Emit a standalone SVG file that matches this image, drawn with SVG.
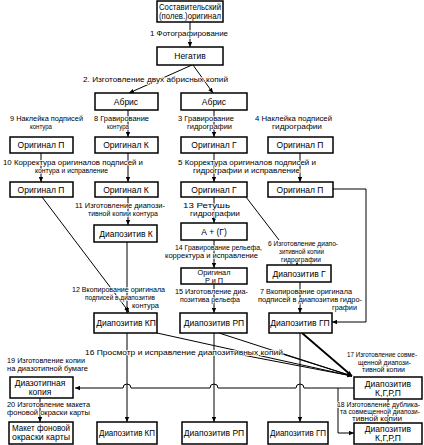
<svg xmlns="http://www.w3.org/2000/svg" width="424" height="445" viewBox="0 0 424 445">
<defs>
<marker id="a" viewBox="0 0 8 8" refX="8" refY="4" markerWidth="5" markerHeight="5" orient="auto-start-reverse" markerUnits="userSpaceOnUse"><path d="M0,0.5 L8,4 L0,7.5 Z" fill="#000"/></marker>
<style>
.b{fill:#fff;stroke:#000;stroke-width:1.5}
.t{font-family:"Liberation Sans",Arial,sans-serif;font-size:8.5px;fill:#000;text-anchor:middle}
.s{font-size:7.3px}
.l{font-family:"Liberation Sans",Arial,sans-serif;font-size:7px;fill:#000;stroke:#fff;stroke-width:1.5;paint-order:stroke;stroke-linejoin:round}
.c{stroke:#000;stroke-width:1;fill:none}
.k{stroke:#000;stroke-width:1.8;fill:none}
</style>
</defs>
<rect width="424" height="445" fill="#fff"/>
<g id="connectors">
<line class="c" x1="190" y1="22" x2="190" y2="47" marker-end="url(#a)"/>
<line class="c" x1="192" y1="65" x2="129" y2="93" marker-end="url(#a)"/>
<line class="c" x1="193" y1="65" x2="213" y2="93" marker-end="url(#a)"/>
<line class="c" x1="128" y1="110" x2="128" y2="137" marker-end="url(#a)"/>
<line class="c" x1="214" y1="110" x2="214" y2="137" marker-end="url(#a)"/>
<line class="c" x1="41" y1="153" x2="41" y2="182" marker-end="url(#a)"/>
<line class="c" x1="128" y1="153" x2="128" y2="182" marker-end="url(#a)"/>
<line class="c" x1="214" y1="153" x2="214" y2="182" marker-end="url(#a)"/>
<line class="c" x1="300" y1="153" x2="300" y2="182" marker-end="url(#a)"/>
<line class="c" x1="128" y1="197" x2="128" y2="225" marker-end="url(#a)"/>
<line class="c" x1="214" y1="197" x2="214" y2="223" marker-end="url(#a)"/>
<line class="c" x1="246" y1="197" x2="279" y2="240"/>
<line class="c" x1="297" y1="258" x2="297" y2="265" marker-end="url(#a)"/>
<line class="c" x1="214" y1="240" x2="214" y2="268" marker-end="url(#a)"/>
<line class="c" x1="127" y1="242" x2="127" y2="313" marker-end="url(#a)"/>
<line class="c" x1="42" y1="197" x2="129" y2="312" marker-end="url(#a)"/>
<line class="c" x1="214" y1="284" x2="214" y2="313" marker-end="url(#a)"/>
<line class="c" x1="300" y1="282" x2="300" y2="313" marker-end="url(#a)"/>
<polyline class="c" points="333,189 366,189 366,322 332,322" marker-end="url(#a)"/>
<line class="c" x1="127" y1="333" x2="127" y2="422" marker-end="url(#a)"/>
<line class="c" x1="214" y1="333" x2="214" y2="422" marker-end="url(#a)"/>
<line class="c" x1="300" y1="333" x2="300" y2="422" marker-end="url(#a)"/>
<line class="c" x1="157" y1="333" x2="352" y2="376" marker-end="url(#a)"/>
<line class="c" x1="219" y1="333" x2="352" y2="376" marker-end="url(#a)"/>
<line class="c" x1="232" y1="353" x2="352" y2="376" marker-end="url(#a)"/>
<line class="c" x1="276" y1="352" x2="352" y2="376" marker-end="url(#a)"/>
<line class="k" x1="302" y1="333" x2="352" y2="376" marker-end="url(#a)"/>
<path class="c" d="M354,388 H304 A4,4 0 0 0 296,388 H218 A4,4 0 0 0 210,388 H131 A4,4 0 0 0 123,388 H75" marker-end="url(#a)"/>
<polyline class="c" points="338,388 338,433 354,433" marker-end="url(#a)"/>
<line class="c" x1="40" y1="398" x2="40" y2="422" marker-end="url(#a)"/>
<line class="c" x1="388" y1="399" x2="388" y2="423" marker-end="url(#a)"/>
</g>
<g id="labels">
<text class="l" x="150" y="36" textLength="78" lengthAdjust="spacingAndGlyphs">1 Фотографирование</text>
<text class="l" x="83" y="82" textLength="145" lengthAdjust="spacingAndGlyphs">2. Изготовление двух абрисных копий</text>
<text class="l" x="10" y="121" textLength="73" lengthAdjust="spacingAndGlyphs">9 Наклейка подписей</text>
<text class="l" x="30" y="128.5" textLength="22" lengthAdjust="spacingAndGlyphs">контура</text>
<text class="l" x="94" y="121" textLength="55" lengthAdjust="spacingAndGlyphs">8 Гравирование</text>
<text class="l" x="107" y="128.5" textLength="22" lengthAdjust="spacingAndGlyphs">контура</text>
<text class="l" x="178" y="121" textLength="56" lengthAdjust="spacingAndGlyphs">3 Гравирование</text>
<text class="l" x="187" y="128.5" textLength="45" lengthAdjust="spacingAndGlyphs">гидрографии</text>
<text class="l" x="255" y="121" textLength="77" lengthAdjust="spacingAndGlyphs">4 Наклейка подписей</text>
<text class="l" x="272" y="128.5" textLength="50" lengthAdjust="spacingAndGlyphs">гидрографии</text>
<text class="l" x="3" y="165" textLength="140" lengthAdjust="spacingAndGlyphs">10 Корректура оригиналов подписей и</text>
<text class="l" x="35" y="172.5" textLength="73" lengthAdjust="spacingAndGlyphs">контура и исправление</text>
<text class="l" x="178" y="165" textLength="138" lengthAdjust="spacingAndGlyphs">5 Корректура оригиналов подписей и</text>
<text class="l" x="193" y="172.5" textLength="107" lengthAdjust="spacingAndGlyphs">гидрографии и исправление</text>
<text class="l" x="75" y="208" textLength="90" lengthAdjust="spacingAndGlyphs">11 Изготовление диапози-</text>
<text class="l" x="88" y="216" textLength="70" lengthAdjust="spacingAndGlyphs">тивной копии контура</text>
<text class="l" x="183" y="208" textLength="47" lengthAdjust="spacingAndGlyphs">13   Ретушь</text>
<text class="l" x="190" y="216" textLength="50" lengthAdjust="spacingAndGlyphs">гидрографии</text>
<text class="l" x="268" y="246" textLength="70" lengthAdjust="spacingAndGlyphs">6 Изготовление диапо-</text>
<text class="l" x="279" y="254" textLength="45" lengthAdjust="spacingAndGlyphs">зитивной копии</text>
<text class="l" x="281" y="262" textLength="40" lengthAdjust="spacingAndGlyphs">гидрографии</text>
<text class="l" x="175" y="250" textLength="87" lengthAdjust="spacingAndGlyphs">14 Гравирование рельефа,</text>
<text class="l" x="165" y="258" textLength="93" lengthAdjust="spacingAndGlyphs">корректура и исправление</text>
<text class="l" x="72" y="292" textLength="93" lengthAdjust="spacingAndGlyphs">12 Вкопирование оригинала</text>
<text class="l" x="85" y="300" textLength="70" lengthAdjust="spacingAndGlyphs">подписей в диапозитив</text>
<text class="l" x="132" y="308" textLength="27" lengthAdjust="spacingAndGlyphs">контура</text>
<text class="l" x="175" y="294" textLength="73" lengthAdjust="spacingAndGlyphs">15 Изготовление диа-</text>
<text class="l" x="180" y="302" textLength="60" lengthAdjust="spacingAndGlyphs">позитива рельефа</text>
<text class="l" x="260" y="294" textLength="92" lengthAdjust="spacingAndGlyphs">7 Вкопирование оригинала</text>
<text class="l" x="258" y="302" textLength="104" lengthAdjust="spacingAndGlyphs">подписей в диапозитив гидро-</text>
<text class="l" x="332" y="310" textLength="25" lengthAdjust="spacingAndGlyphs">графии</text>
<text class="l" x="85" y="355" textLength="198" lengthAdjust="spacingAndGlyphs">16 Просмотр и исправление диапозитивных копий</text>
<text class="l" x="7" y="363" textLength="78" lengthAdjust="spacingAndGlyphs">19 Изготовление копии</text>
<text class="l" x="7" y="371" textLength="81" lengthAdjust="spacingAndGlyphs">на диазотипной бумаге</text>
<text class="l" x="347" y="357" textLength="70" lengthAdjust="spacingAndGlyphs">17 Изготовление совме-</text>
<text class="l" x="358" y="365" textLength="53" lengthAdjust="spacingAndGlyphs">щенной диапози-</text>
<text class="l" x="362" y="372" textLength="43" lengthAdjust="spacingAndGlyphs">тивной копии</text>
<text class="l" x="7" y="407" textLength="83" lengthAdjust="spacingAndGlyphs">20 Изготовление макета</text>
<text class="l" x="7" y="415" textLength="83" lengthAdjust="spacingAndGlyphs">фоновой окраски карты</text>
<text class="l" x="337" y="407" textLength="83" lengthAdjust="spacingAndGlyphs">18 Изготовление дублика-</text>
<text class="l" x="340" y="414" textLength="80" lengthAdjust="spacingAndGlyphs">та совмещенной диапози-</text>
<text class="l" x="352" y="421" textLength="50" lengthAdjust="spacingAndGlyphs">тивной   копии</text>
</g>
<g id="n0"><rect class="b" x="157" y="1" width="66" height="21"/><text class="t" x="190" y="10" textLength="62" lengthAdjust="spacingAndGlyphs">Составительский</text><text class="t" x="190" y="19" textLength="62" lengthAdjust="spacingAndGlyphs">(полев.)оригинал</text></g>
<g id="n1"><rect class="b" x="157" y="47" width="66" height="18"/><text class="t" x="190" y="59">Негатив</text></g>
<g id="n2"><rect class="b" x="95" y="93" width="63" height="17"/><text class="t" x="126" y="105">Абрис</text></g>
<g id="n3"><rect class="b" x="181" y="93" width="66" height="17"/><text class="t" x="214" y="105">Абрис</text></g>
<g id="n4"><rect class="b" x="10" y="137" width="63" height="16"/><text class="t" x="41" y="148">Оригинал П</text></g>
<g id="n5"><rect class="b" x="95" y="137" width="63" height="16"/><text class="t" x="126" y="148">Оригинал К</text></g>
<g id="n6"><rect class="b" x="181" y="137" width="66" height="16"/><text class="t" x="214" y="148">Оригинал Г</text></g>
<g id="n7"><rect class="b" x="268" y="137" width="65" height="16"/><text class="t" x="300" y="148">Оригинал П</text></g>
<g id="n8"><rect class="b" x="10" y="182" width="63" height="15"/><text class="t" x="41" y="193">Оригинал П</text></g>
<g id="n9"><rect class="b" x="95" y="182" width="63" height="15"/><text class="t" x="126" y="193">Оригинал К</text></g>
<g id="n10"><rect class="b" x="181" y="182" width="66" height="15"/><text class="t" x="214" y="193">Оригинал Г</text></g>
<g id="n11"><rect class="b" x="268" y="182" width="65" height="15"/><text class="t" x="300" y="193">Оригинал П</text></g>
<g id="n12"><rect class="b" x="94" y="225" width="63" height="17"/><text class="t" x="126" y="237">Диапозитив К</text></g>
<g id="n13"><rect class="b" x="181" y="223" width="66" height="17"/><text class="t" x="214" y="235">А + (Г)</text></g>
<g id="n14"><rect class="b" x="181" y="268" width="66" height="16"/><text class="t s" x="214" y="275">Оригинал</text><text class="t s" x="214" y="282.5">Р и П</text></g>
<g id="n15"><rect class="b" x="267" y="265" width="64" height="17"/><text class="t" x="299" y="277">Диапозитив Г</text></g>
<g id="n16"><rect class="b" x="94" y="313" width="63" height="20"/><text class="t" x="126" y="326">Диапозитив КП</text></g>
<g id="n17"><rect class="b" x="180" y="313" width="67" height="20"/><text class="t" x="214" y="326">Диапозитив РП</text></g>
<g id="n18"><rect class="b" x="269" y="313" width="63" height="20"/><text class="t" x="300" y="326">Диапозитив ГП</text></g>
<g id="n19"><rect class="b" x="10" y="377" width="63" height="21"/><text class="t" x="40" y="386">Диазотипная</text><text class="t" x="40" y="395">копия</text></g>
<g id="n20"><rect class="b" x="354" y="377" width="68" height="22"/><text class="t" x="388" y="387">Диапозитив</text><text class="t" x="388" y="396">К,Г,Р,П</text></g>
<g id="n21"><rect class="b" x="354" y="423" width="68" height="21"/><text class="t" x="388" y="432">Диапозитив</text><text class="t" x="388" y="441">К,Г,Р,П</text></g>
<g id="n22"><rect class="b" x="9" y="422" width="64" height="22"/><text class="t" x="41" y="431" textLength="58" lengthAdjust="spacingAndGlyphs">Макет фоновой</text><text class="t" x="41" y="440" textLength="58" lengthAdjust="spacingAndGlyphs">окраски карты</text></g>
<g id="n23"><rect class="b" x="97" y="422" width="60" height="22"/><text class="t" x="127" y="436" textLength="56" lengthAdjust="spacingAndGlyphs">Диапозитив КП</text></g>
<g id="n24"><rect class="b" x="182" y="422" width="65" height="22"/><text class="t" x="214" y="436">Диапозитив РП</text></g>
<g id="n25"><rect class="b" x="268" y="422" width="60" height="22"/><text class="t" x="298" y="436" textLength="56" lengthAdjust="spacingAndGlyphs">Диапозитив ГП</text></g>
</svg>
